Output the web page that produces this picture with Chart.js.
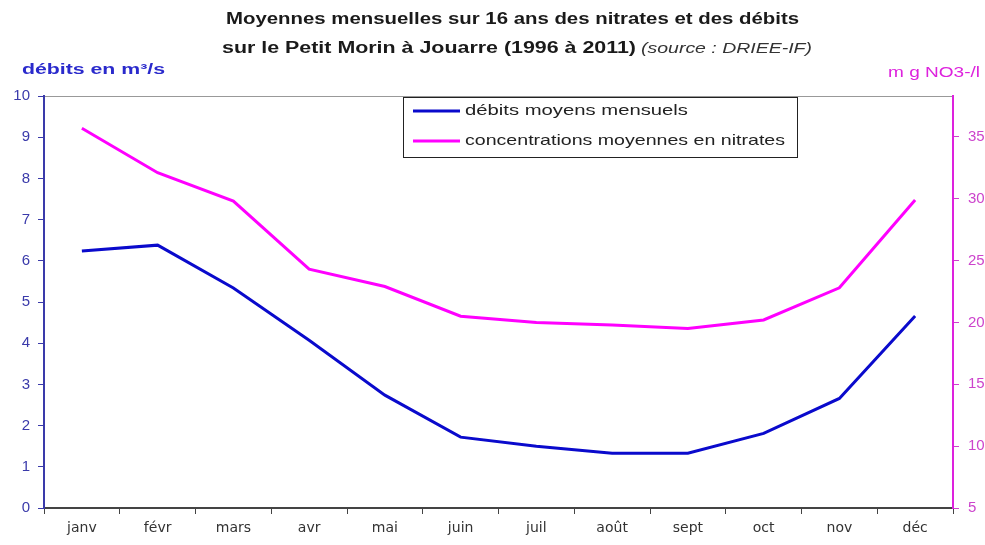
<!DOCTYPE html>
<html>
<head>
<meta charset="utf-8">
<script src="https://cdn.jsdelivr.net/npm/chart.js@4/dist/chart.umd.min.js"></script>
<style>
  html, body { margin: 0; padding: 0; background: #fff; }
  #wrap { width: 985px; height: 545px; position: relative; }
</style>
</head>
<body>
<div id="wrap"><canvas id="myChart" width="985" height="545"></canvas></div>
<script>
const months = ['janv', 'févr', 'mars', 'avr', 'mai', 'juin', 'juil', 'août', 'sept', 'oct', 'nov', 'déc'];
const debits = [6.24, 6.38, 5.34, 4.07, 2.74, 1.72, 1.50, 1.33, 1.33, 1.81, 2.66, 4.66];
const nitrates = [35.7, 32.1, 29.8, 24.3, 22.9, 20.5, 20.0, 19.8, 19.5, 20.2, 22.8, 29.9];

const titleLine1 = 'Moyennes mensuelles sur 16 ans des nitrates et des débits';
const titleLine2 = 'sur le Petit Morin à Jouarre (1996 à 2011)';
const titleSource = '(source : DRIEE-IF)';
const leftAxisTitle = 'débits en m³/s';
const rightAxisTitle = 'm g NO3-/l';

const FONT = '"Liberation Sans", Arial, sans-serif';
const BLUE = '#0a0acc';
const MAGENTA = '#ff00ff';

const ctx = document.getElementById('myChart').getContext('2d');

// the original text is rendered wide, so squeeze/stretch it to the measured span
function wideText(ctx, text, x, y, width) {
  const w = ctx.measureText(text).width;
  ctx.save();
  ctx.translate(x, y);
  ctx.scale(width / w, 1);
  ctx.textAlign = 'left';
  ctx.fillText(text, 0, 0);
  ctx.restore();
}

// title, axis titles and the boxed legend
const decorations = {
  id: 'decorations',
  afterDraw(chart) {
    const {ctx} = chart;
    ctx.save();
    ctx.textBaseline = 'middle';

    // title
    ctx.fillStyle = '#1a1a1a';
    ctx.font = 'bold 16px ' + FONT;
    wideText(ctx, titleLine1, 226, 20, 573);
    wideText(ctx, titleLine2, 222, 49, 414);
    ctx.font = 'italic 14px ' + FONT;
    ctx.fillStyle = '#333';
    wideText(ctx, titleSource, 641, 49, 171);

    // axis titles
    ctx.font = 'bold 14px ' + FONT;
    ctx.fillStyle = '#2a2acc';
    wideText(ctx, leftAxisTitle, 22, 70, 143);
    ctx.font = '14px ' + FONT;
    ctx.fillStyle = '#dd22dd';
    wideText(ctx, rightAxisTitle, 888, 73, 92);

    // legend box
    const bx = 403, by = 97, bw = 394, bh = 60;
    const textW = [223, 320];
    ctx.fillStyle = '#fff';
    ctx.fillRect(bx, by, bw, bh);
    ctx.strokeStyle = '#222';
    ctx.lineWidth = 1;
    ctx.strokeRect(bx + 0.5, by + 0.5, bw, bh);
    ctx.font = '15px ' + FONT;
    chart.data.datasets.forEach((ds, i) => {
      const y = by + 14 + i * 30;
      ctx.strokeStyle = ds.borderColor;
      ctx.lineWidth = 3;
      ctx.beginPath();
      ctx.moveTo(bx + 10, y);
      ctx.lineTo(bx + 57, y);
      ctx.stroke();
      ctx.fillStyle = '#222';
      wideText(ctx, ds.label, bx + 62, y, textW[i]);
    });
    ctx.restore();
  }
};

const myChart = new Chart(ctx, {
  type: 'line',
  data: {
    labels: months,
    datasets: [
      {
        label: 'débits moyens mensuels',
        data: debits,
        yAxisID: 'y',
        borderColor: BLUE,
        borderWidth: 3,
        pointRadius: 0,
        tension: 0
      },
      {
        label: 'concentrations moyennes en nitrates',
        data: nitrates,
        yAxisID: 'y1',
        borderColor: MAGENTA,
        borderWidth: 3,
        pointRadius: 0,
        tension: 0
      }
    ]
  },
  options: {
    responsive: false,
    animation: false,
    layout: { padding: { top: 96, left: 0, right: 0, bottom: 0 } },
    plugins: {
      legend: { display: false },
      title: { display: false },
      tooltip: { enabled: false }
    },
    scales: {
      x: {
        offset: true,
        grid: { offset: true, drawOnChartArea: false, tickLength: 6, tickColor: '#444' },
        border: { color: '#444', width: 2 },
        ticks: { color: '#333', padding: 6, font: { family: '"DejaVu Sans", ' + FONT, size: 14 } },
        afterFit(s) { s.height = 37; }
      },
      y: {
        position: 'left',
        min: 0,
        max: 10,
        ticks: { stepSize: 1, color: '#3a3aaa', padding: 8, font: { family: FONT, size: 15 } },
        grid: {
          color: c => (c.tick && c.tick.value === 10 ? '#999' : 'transparent'),
          tickColor: '#3a3aaa',
          tickLength: 6
        },
        border: { color: '#3a3aaa', width: 2 },
        afterFit(s) { s.width = 44; }
      },
      y1: {
        position: 'right',
        min: 5,
        max: 38.3,
        ticks: { stepSize: 5, color: '#cc44cc', padding: 9, font: { family: FONT, size: 15 } },
        afterBuildTicks(s) { s.ticks = s.ticks.filter(t => t.value % 5 === 0); },
        grid: { drawOnChartArea: false, tickColor: '#cc44cc', tickLength: 6 },
        border: { color: '#dd22dd', width: 2 },
        afterFit(s) { s.width = 32; }
      }
    }
  },
  plugins: [decorations]
});
</script>
</body>
</html>
